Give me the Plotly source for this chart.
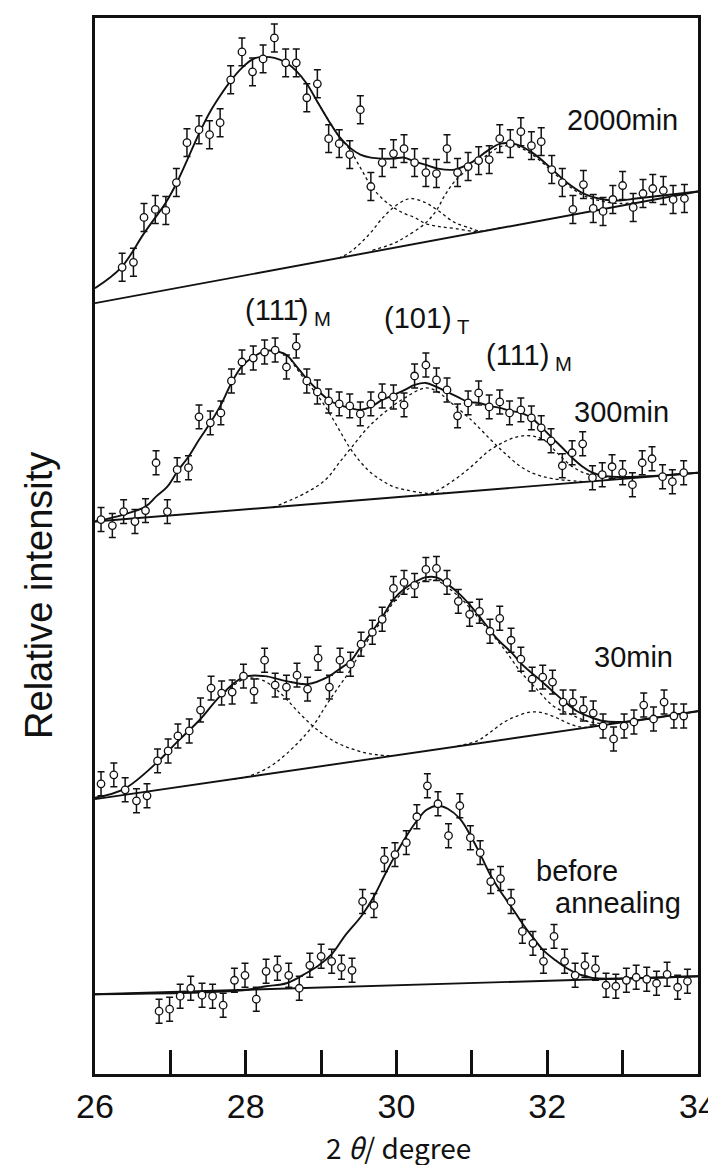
import plotly.graph_objects as go

# ---------------- data (2θ in degree, relative intensity in arbitrary units) ----------------
# 2000 min
x_2000 = [26.36, 26.51, 26.65, 26.80, 26.94, 27.08, 27.22, 27.38, 27.52, 27.66,
          27.80, 27.95, 28.09, 28.23, 28.38, 28.53, 28.67, 28.81, 28.95, 29.10,
          29.24, 29.38, 29.52, 29.66, 29.81, 29.96, 30.10, 30.24, 30.39, 30.53,
          30.67, 30.81, 30.95, 31.09, 31.23, 31.37, 31.51, 31.65, 31.79, 31.92,
          32.06, 32.20, 32.34, 32.48, 32.61, 32.74, 32.87, 33.00, 33.14, 33.27,
          33.40, 33.54, 33.67, 33.82]
y_2000 = [809, 814, 859, 867, 866, 894, 934, 947, 942, 954,
          997, 1025, 1005, 1018, 1039, 1014, 1014, 979, 993, 938,
          933, 922, 967, 890, 914, 923, 928, 914, 904, 903,
          928, 904, 910, 916, 917, 938, 933, 945, 931, 935,
          907, 894, 867, 892, 868, 865, 877, 891, 869, 883,
          888, 886, 877, 878]
err_2000 = 14

fit_x_2000 = [26.00, 26.35, 26.65, 26.94, 27.08, 27.22, 27.38, 27.52, 27.66, 27.80,
              27.95, 28.10, 28.23, 28.38, 28.54, 28.67, 28.81, 28.95, 29.10, 29.24,
              29.38, 29.52, 29.66, 29.81, 29.96, 30.10, 30.24, 30.38, 30.55, 30.77,
              30.99, 31.21, 31.38, 31.60, 31.82, 32.04, 32.26, 32.48, 32.74, 32.96,
              33.18, 33.53, 34.00]
fit_y_2000 = [788, 809, 843, 874, 893, 916, 943, 964, 981, 996,
              1009, 1018, 1020, 1019, 1014, 1006, 993, 975, 956, 940,
              929, 922, 919, 918, 918, 919, 915, 912, 908, 907,
              914, 926, 933, 932, 923, 909, 894, 883, 877, 876,
              878, 881, 885]
m1_x_2000 = [28.95, 29.10, 29.24, 29.38, 29.52, 29.66, 29.81, 29.96, 30.10, 30.24,
             30.38, 30.55, 30.77, 31.07, 31.40]
m1_y_2000 = [975, 956, 940, 927, 909, 891, 878, 869, 863, 859,
             853, 850, 848, 845, 849]
t_x_2000 = [29.23, 29.38, 29.52, 29.66, 29.81, 29.96, 30.10, 30.20, 30.38, 30.55,
            30.77, 30.99, 31.10]
t_y_2000 = [818, 824, 833, 844, 858, 869, 876, 878, 874, 866,
            854, 848, 845]
m2_x_2000 = [29.68, 29.96, 30.11, 30.38, 30.53, 30.64, 30.77, 30.99, 31.21, 31.38,
             31.60, 31.82, 32.04, 32.26, 32.48, 32.74, 32.96, 33.18]
m2_y_2000 = [826, 833, 839, 853, 866, 881, 895, 910, 922, 930,
             930, 921, 907, 892, 881, 875, 873, 874]
bg_x_2000 = [26.0, 34.0]
bg_y_2000 = [773, 885]

# 300 min
x_300 = [26.08, 26.23, 26.38, 26.53, 26.67, 26.81, 26.96, 27.09, 27.24, 27.38,
         27.53, 27.67, 27.81, 27.95, 28.10, 28.25, 28.39, 28.54, 28.67, 28.81,
         28.95, 29.10, 29.24, 29.38, 29.52, 29.66, 29.81, 29.96, 30.10, 30.24,
         30.39, 30.53, 30.67, 30.81, 30.95, 31.09, 31.23, 31.37, 31.50, 31.65,
         31.79, 31.92, 32.05, 32.20, 32.33, 32.47, 32.60, 32.73, 32.86, 33.00,
         33.13, 33.26, 33.39, 33.53, 33.66, 33.81]
y_300 = [556, 550, 564, 554, 565, 613, 564, 606, 608, 659,
         653, 663, 695, 714, 718, 724, 726, 709, 730, 695,
         684, 675, 672, 670, 662, 672, 680, 679, 671, 700,
         711, 696, 686, 660, 673, 683, 669, 674, 663, 666,
         658, 648, 635, 610, 623, 632, 598, 601, 609, 603,
         591, 613, 617, 599, 594, 603]
err_300 = 12

fit_x_300 = [26.00, 26.38, 26.67, 26.81, 26.96, 27.09, 27.24, 27.38, 27.53, 27.67,
             27.81, 27.95, 28.10, 28.25, 28.39, 28.54, 28.67, 28.81, 28.95, 29.10,
             29.24, 29.38, 29.52, 29.66, 29.81, 29.96, 30.11, 30.24, 30.39, 30.53,
             30.67, 30.81, 30.95, 31.09, 31.23, 31.37, 31.51, 31.65, 31.79, 31.92,
             32.05, 32.20, 32.33, 32.47, 32.60, 32.73, 32.86, 33.20, 34.00]
fit_y_300 = [554, 561, 569, 579, 589, 604, 619, 636, 653, 671,
             693, 710, 719, 725, 725, 721, 710, 697, 686, 676,
             671, 668, 666, 669, 676, 681, 686, 691, 693, 689,
             684, 679, 674, 673, 670, 668, 665, 663, 658, 649,
             639, 628, 618, 609, 603, 600, 599, 599, 603]
m1_x_300 = [28.39, 28.54, 28.67, 28.81, 28.95, 29.10, 29.24, 29.38, 29.52, 29.66,
            29.81, 29.96, 30.11, 30.38, 30.64]
m1_y_300 = [725, 721, 708, 694, 681, 664, 646, 628, 614, 603,
            595, 589, 586, 582.5, 582.5]
t_x_300 = [28.36, 28.80, 29.06, 29.24, 29.41, 29.63, 29.85, 30.11, 30.38, 30.55,
           30.68, 30.99, 31.25, 31.43, 31.65, 31.86, 32.08, 32.48]
t_y_300 = [568, 583, 596, 613, 629, 649, 664, 678, 688, 684,
           676, 656, 636, 623, 609, 601, 597, 594]
m2_x_300 = [30.30, 30.51, 30.77, 30.99, 31.21, 31.43, 31.60, 31.78, 31.95, 32.13,
            32.30, 32.48, 32.65, 32.91]
m2_y_300 = [580, 584, 596, 609, 624, 634, 639, 640, 636, 623,
            611, 603, 600, 597]
bg_x_300 = [26.0, 34.0]
bg_y_300 = [554, 603]

# 30 min
x_30 = [26.08, 26.25, 26.40, 26.55, 26.69, 26.83, 26.97, 27.10, 27.25, 27.40,
        27.54, 27.68, 27.82, 27.97, 28.11, 28.25, 28.39, 28.54, 28.68, 28.82,
        28.96, 29.11, 29.25, 29.39, 29.53, 29.68, 29.81, 29.96, 30.10, 30.24,
        30.39, 30.53, 30.67, 30.82, 30.97, 31.10, 31.24, 31.37, 31.52, 31.65,
        31.80, 31.94, 32.07, 32.21, 32.34, 32.48, 32.61, 32.74, 32.88, 33.02,
        33.15, 33.28, 33.41, 33.55, 33.68, 33.81]
y_30 = [291, 300, 285, 274, 279, 314, 324, 339, 344, 365,
        387, 382, 383, 399, 384, 415, 390, 388, 400, 386,
        417, 388, 415, 411, 431, 443, 456, 487, 493, 490,
        506, 507, 493, 474, 461, 464, 444, 457, 435, 416,
        396, 398, 393, 373, 373, 366, 362, 349, 336, 349,
        353, 370, 356, 373, 359, 359]
err_30 = 12

fit_x_30 = [26.00, 26.39, 26.83, 27.09, 27.40, 27.66, 27.97, 28.25, 28.54, 28.82,
            29.11, 29.24, 29.39, 29.53, 29.68, 29.81, 29.96, 30.11, 30.24, 30.38,
            30.53, 30.68, 30.84, 30.99, 31.16, 31.34, 31.52, 31.69, 31.86, 32.04,
            32.22, 32.39, 32.57, 32.74, 32.92, 33.09, 34.00]
fit_y_30 = [277, 286, 313, 333, 356, 379, 398, 399, 394, 391,
            399, 406, 414, 429, 444, 458, 476, 487, 493, 498,
            498, 491, 481, 469, 453, 436, 423, 409, 398, 386,
            374, 364, 358, 354, 353, 353.5, 364]
m1_x_30 = [27.66, 27.97, 28.10, 28.25, 28.40, 28.54, 28.71, 28.89, 29.06, 29.24,
           29.41, 29.59, 29.76, 29.94]
m1_y_30 = [379, 396, 397, 394, 386, 376, 362, 349, 339, 331,
           326, 322, 320, 319]
t_x_30 = [27.84, 28.01, 28.27, 28.54, 28.89, 29.06, 29.24, 29.37, 29.53, 29.68,
          29.81, 29.96, 30.11, 30.24, 30.38, 30.53, 30.68, 30.84, 30.99, 31.21,
          31.43, 31.65, 31.86, 32.08, 32.30, 32.52, 32.74, 33.00]
t_y_30 = [296, 298, 306, 321, 349, 369, 389, 403, 424, 442,
          455, 473, 484, 490, 495, 495, 488, 478, 466, 446,
          426, 403, 386, 369, 361, 354, 351.5, 352.7]
m2_x_30 = [30.81, 31.07, 31.25, 31.43, 31.60, 31.78, 31.95, 32.13, 32.30, 32.48, 32.65]
m2_y_30 = [329, 334, 343, 353, 359, 363, 362, 357, 351, 347.5, 349]
bg_x_30 = [26.0, 34.0]
bg_y_30 = [275.6, 363.7]

# before annealing
x_0 = [26.85, 26.99, 27.13, 27.27, 27.42, 27.56, 27.70, 27.85, 27.99, 28.14,
       28.27, 28.42, 28.57, 28.71, 28.85, 29.00, 29.14, 29.27, 29.41, 29.55,
       29.70, 29.84, 29.98, 30.13, 30.27, 30.41, 30.55, 30.69, 30.84, 30.98,
       31.11, 31.25, 31.38, 31.52, 31.67, 31.81, 31.95, 32.09, 32.23, 32.37,
       32.50, 32.64, 32.78, 32.91, 33.05, 33.18, 33.32, 33.45, 33.59, 33.73,
       33.86]
y_0 = [63, 65, 78, 86, 79, 78, 69, 94, 99, 75,
       103, 106, 99, 86, 109, 118, 113, 107, 104, 173,
       169, 215, 220, 232, 258, 289, 271, 239, 269, 237,
       222, 193, 196, 173, 143, 131, 113, 138, 113, 99,
       109, 106, 89, 88, 94, 97, 95, 91, 100, 87,
       93]
err_0 = 12

fit_x_0 = [26.00, 27.97, 28.27, 28.54, 28.80, 28.97, 29.15, 29.32, 29.54, 29.70,
           29.84, 29.98, 30.11, 30.27, 30.40, 30.55, 30.68, 30.84, 30.99, 31.12,
           31.25, 31.38, 31.52, 31.67, 31.82, 31.95, 32.11, 32.26, 32.39, 32.52,
           32.65, 34.00]
fit_y_0 = [80, 84, 88, 91, 101, 109, 121, 139, 159, 178,
           199, 219, 236, 254, 265, 269, 266, 256, 238, 219,
           199, 183, 168, 151, 136, 124, 114, 106, 101, 98,
           96, 98]
bg_x_0 = [26.0, 34.0]
bg_y_0 = [80, 98]

tick_vals = [26, 28, 30, 32, 34]
tick_text = ["26", "28", "30", "32", "34"]

# ---------------- figure ----------------
fig = go.Figure()

BLACK = "#111111"


def solid(x, y):
    fig.add_trace(go.Scatter(x=x, y=y, mode="lines", hoverinfo="skip",
                             line=dict(color=BLACK, width=1.9, shape="spline", smoothing=1.0)))


def dotted(x, y):
    fig.add_trace(go.Scatter(x=x, y=y, mode="lines", hoverinfo="skip",
                             line=dict(color=BLACK, width=1.3, dash="dot",
                                       shape="spline", smoothing=1.0)))


def points(x, y, err):
    fig.add_trace(go.Scatter(
        x=x, y=y, mode="markers",
        marker=dict(symbol="circle", size=7.5, color="white",
                    line=dict(color=BLACK, width=1.3)),
        error_y=dict(type="constant", value=err, color=BLACK, thickness=1.5, width=3.5),
    ))


for bx, by in [(bg_x_2000, bg_y_2000), (bg_x_300, bg_y_300),
               (bg_x_30, bg_y_30), (bg_x_0, bg_y_0)]:
    solid(bx, by)

for cx, cy in [(m1_x_2000, m1_y_2000), (t_x_2000, t_y_2000), (m2_x_2000, m2_y_2000),
               (m1_x_300, m1_y_300), (t_x_300, t_y_300), (m2_x_300, m2_y_300),
               (m1_x_30, m1_y_30), (t_x_30, t_y_30), (m2_x_30, m2_y_30)]:
    dotted(cx, cy)

for fx, fy in [(fit_x_2000, fit_y_2000), (fit_x_300, fit_y_300),
               (fit_x_30, fit_y_30), (fit_x_0, fit_y_0)]:
    solid(fx, fy)

points(x_2000, y_2000, err_2000)
points(x_300, y_300, err_300)
points(x_30, y_30, err_30)
points(x_0, y_0, err_0)

LAB = dict(family="Liberation Sans, Arial, sans-serif", size=29, color=BLACK)
ann = [
    dict(x=33.00, y=957, text="2000min", xanchor="center", yanchor="middle"),
    dict(x=32.99, y=664, text="300min", xanchor="center", yanchor="middle"),
    dict(x=33.15, y=418, text="30min", xanchor="center", yanchor="middle"),
    dict(x=31.83, y=204, text="before", xanchor="left", yanchor="middle"),
    dict(x=32.07, y=171, text="annealing", xanchor="left", yanchor="middle"),
    dict(x=27.97, y=764, text="(111\u0304)<sub> M</sub>", xanchor="left", yanchor="middle"),
    dict(x=29.81, y=756, text="(101)<sub> T</sub>", xanchor="left", yanchor="middle"),
    dict(x=31.16, y=719, text="(111)<sub> M</sub>", xanchor="left", yanchor="middle"),
]
for a in ann:
    fig.add_annotation(xref="x", yref="y", showarrow=False, font=LAB, **a)

fig.add_annotation(xref="paper", yref="paper", x=-0.094, y=0.453, text="Relative intensity",
                   textangle=-90, showarrow=False, xanchor="center", yanchor="middle",
                   font=dict(family="Liberation Sans, Arial, sans-serif", size=38, color=BLACK))
fig.add_annotation(xref="paper", yref="paper", x=0.5025, y=-0.069,
                   text="2 <i>\u03b8</i>/ degree", showarrow=False,
                   xanchor="center", yanchor="middle",
                   font=dict(family="Noto Sans CJK JP, DejaVu Sans, sans-serif", size=28, color=BLACK))

fig.update_layout(
    width=716, height=1165, autosize=False,
    margin=dict(l=87, r=20, t=7, b=99),
    paper_bgcolor="white", plot_bgcolor="white",
    showlegend=False,
    xaxis=dict(range=[26, 34], tickmode="array", tickvals=tick_vals, ticktext=tick_text,
               ticks="inside", ticklen=24, tickwidth=2.5, tickcolor=BLACK,
               minor=dict(dtick=1, tick0=26, ticks="inside", ticklen=24, tickwidth=2.5,
                          tickcolor=BLACK, showgrid=False),
               showline=True, linewidth=2.5, linecolor=BLACK, mirror=True,
               showgrid=False, zeroline=False,
               tickfont=dict(family="Liberation Sans, Arial, sans-serif", size=34, color=BLACK)),
    yaxis=dict(range=[0, 1059], showticklabels=False, ticks="",
               showline=True, linewidth=2.5, linecolor=BLACK, mirror=True,
               showgrid=False, zeroline=False),
)

fig.write_html("out.html")
